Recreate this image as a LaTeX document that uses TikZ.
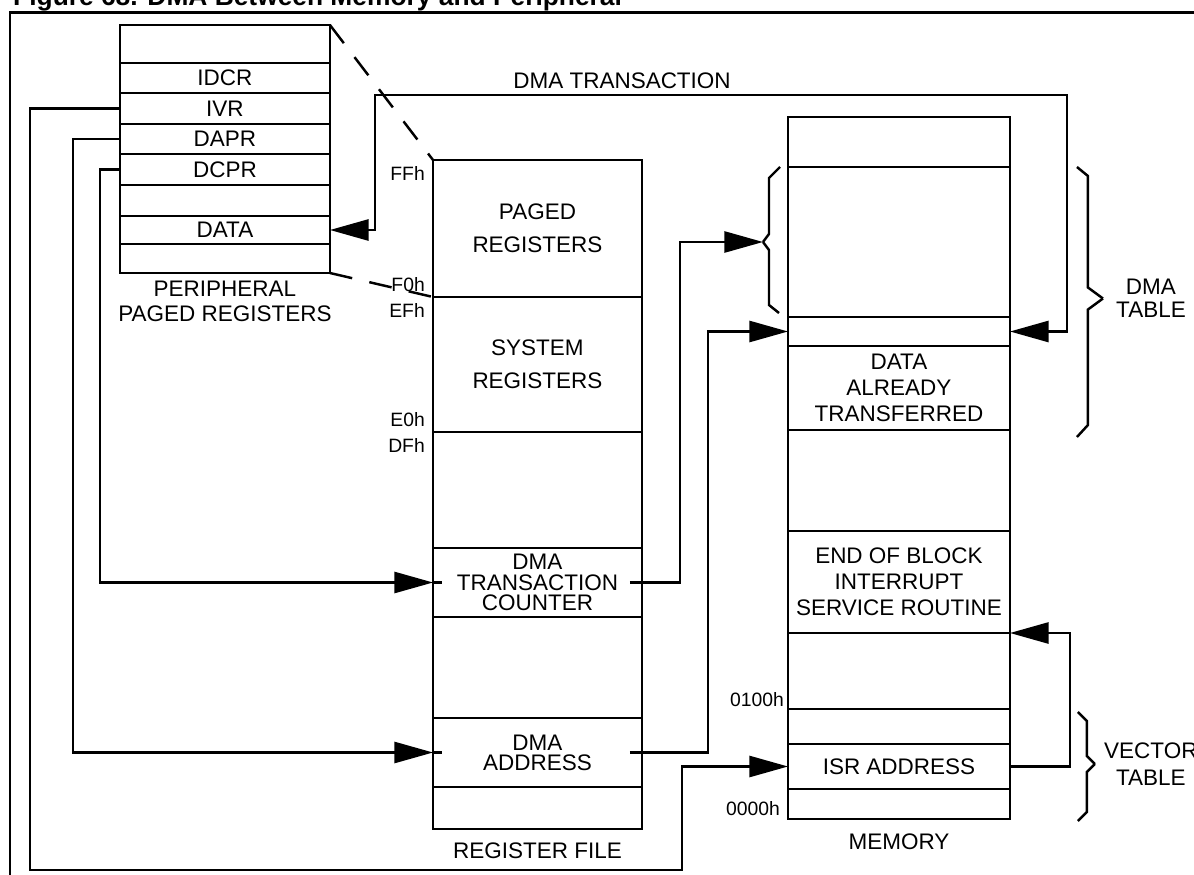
\documentclass[tikz,border=0pt]{standalone}
\usepackage{fontspec}
\setmainfont{Liberation Sans}
\usetikzlibrary{arrows.meta,positioning,calc}

\begin{document}
\begin{tikzpicture}[
		x=0.02cm, y=-0.02cm,
		font=\fontsize{12.8}{15}\selectfont,
		line width=1.4pt,
		>={Triangle[length=22pt,width=12pt]},
		line/.style={->},
		bidir/.style={<->},
		cell/.style={draw, align=center, inner sep=0pt, outer sep=0pt, minimum height=#1*0.02cm},
		pcell/.style={cell=#1, minimum width=4.2cm},
		rcell/.style={cell=#1, minimum width=4.18cm},
		mcell/.style={cell=#1, minimum width=4.44cm},
		addr/.style={font=\fontsize{11}{12}\selectfont, inner sep=0pt},
		tag/.style={align=center, inner sep=0pt},
		tight/.style={font=\fontsize{12.8}{11.5}\selectfont},
		loose/.style={font=\fontsize{12.8}{19}\selectfont},
		mid/.style={font=\fontsize{12.8}{14.8}\selectfont},
		proj/.style={dash pattern=on 13pt off 10pt}
		]
		\useasboundingbox (0,0) rectangle (1194,875);
		
		% Frame and title
		\draw[line width=1.7pt] (1200,12.5) -- (10,12.5) -- (10,880);
		\node[anchor=base west, inner sep=0pt, font=\fontsize{15}{18}\selectfont\bfseries] (title) at (12,6) {Figure 68. DMA Between Memory and Peripheral};
		
		% Peripheral paged registers
		\node[pcell=38, anchor=north west] (ptop) at (120,25) {};
		\node[pcell=30, below=0pt of ptop] (idcr) {IDCR};
		\node[pcell=31, below=0pt of idcr] (ivr) {IVR};
		\node[pcell=30, below=0pt of ivr] (dapr) {DAPR};
		\node[pcell=31, below=0pt of dapr] (dcpr) {DCPR};
		\node[pcell=31, below=0pt of dcpr] (pfree) {};
		\node[pcell=28, below=0pt of pfree] (pdata) {DATA};
		\node[pcell=29, below=0pt of pdata] (pbot) {};
		\node[tag, below=0.14cm of pbot, font=\fontsize{12.8}{14.2}\selectfont] (pname) {PERIPHERAL\\PAGED REGISTERS};
		
		% Register file
		\node[rcell=137, anchor=north west, loose] (paged) at (433,160) {PAGED\\REGISTERS};
		\node[rcell=135, below=0pt of paged, loose] (system) {SYSTEM\\REGISTERS};
		\node[rcell=116, below=0pt of system] (rfree1) {};
		\node[rcell=69, below=0pt of rfree1, tight] (dmacnt) {DMA\\TRANSACTION\\COUNTER};
		\node[rcell=101, below=0pt of dmacnt] (rfree2) {};
		\node[rcell=69, below=0pt of rfree2, tight] (dmaaddr) {DMA\\ADDRESS};
		\node[rcell=42, below=0pt of dmaaddr] (rbot) {};
		\node[tag, below=0.26cm of rbot] (rname) {REGISTER FILE};
		
		% Memory
		\node[mcell=50, anchor=north west] (mtop) at (788,117) {};
		\node[mcell=150, below=0pt of mtop] (mpage) {};
		\node[mcell=29, below=0pt of mpage] (mnext) {};
		\node[mcell=84, below=0pt of mnext, mid] (mdone) {DATA\\ALREADY\\TRANSFERRED};
		\node[mcell=101, below=0pt of mdone] (mfree1) {};
		\node[mcell=102, below=0pt of mfree1, mid] (eob) {END OF BLOCK\\INTERRUPT\\SERVICE ROUTINE};
		\node[mcell=76, below=0pt of eob] (mfree2) {};
		\node[mcell=35, below=0pt of mfree2] (mvec) {};
		\node[mcell=45, below=0pt of mvec] (isr) {ISR ADDRESS};
		\node[mcell=30, below=0pt of isr] (mbot) {};
		\node[tag, below=0.28cm of mbot] (mname) {MEMORY};
		
		% Address marks
		\node[addr, anchor=north east] (ffh) at ($(paged.north west)+(-7,5)$) {FFh};
		\node[addr, anchor=south east] (f0h) at ($(paged.south west)+(-7,-4)$) {F0h};
		\node[addr, anchor=north east] (efh) at ($(system.north west)+(-7,5)$) {EFh};
		\node[addr, anchor=south east] (e0h) at ($(system.south west)+(-7,-4)$) {E0h};
		\node[addr, anchor=north east] (dfh) at ($(rfree1.north west)+(-7,5)$) {DFh};
		\node[addr, anchor=south east] (a100) at ($(mvec.north west)+(-3,-1)$) {0100h};
		\node[addr, anchor=south east] (a000) at ($(mbot.south west)+(-7,-2)$) {0000h};
		
		% Page projection
		\draw[proj] (ptop.north east) -- (paged.north west);
		\draw[proj] (pbot.south east) -- (paged.south west);
		
		% DMA transaction path
		\coordinate (trleft) at (375,95);
		\coordinate (trright) at (1067,95);
		\draw[bidir] (pdata.east) -| (trleft) -- node[pos=0.357, above, inner sep=3pt] (trname) {DMA TRANSACTION} (trright) |- (mnext.east);
		
		% Pointer registers to register file and memory
		\draw[line] (ivr.west) -| (30,870) -| ($(isr.west)+(-106,0)$) -- (isr.west);
		\draw[line] (dapr.west) -| ($(dmaaddr.west)+(-360,0)$) -- (dmaaddr.west);
		\draw[line] (dcpr.west) -| ($(dmacnt.west)+(-333,0)$) -- (dmacnt.west);
		\draw (dmacnt.west) -- ++(9,0);
		\draw (dmaaddr.west) -- ++(9,0);
		
		\coordinate (ptip) at ($(mpage.west)+(-25,0)$);
		\draw[line] ($(dmacnt.east)+(-12,0)$) -| ($(ptip)+(-83,0)$) -- (ptip);
		\draw[line] ($(dmaaddr.east)+(-12,0)$) -| ($(mnext.west)+(-80,0)$) -- (mnext.west);
		\draw[line] (isr.east) -| ($(eob.south east)+(60,0)$) -- (eob.south east);
		
		% Braces
		\draw (ptip) -- ++(6,-8) -- ($(mpage.north west)+(-19,11)$) -- ++(11,-11);
		\draw (ptip) -- ++(6,8) -- ($(mpage.south west)+(-19,-12)$) -- ++(10,8);
		
		\coordinate (dtip) at ($(mpage.north east)!0.5!(mdone.south east)+(93,0)$);
		\draw (dtip) -- ++(-15,-11) -- ($(mpage.north east)+(78,9)$) -- ++(-11,-9);
		\draw (dtip) -- ++(-15,11) -- ($(mdone.south east)+(78,-5)$) -- ++(-11,12);
		\node[tag, right=0.24cm of dtip, font=\fontsize{12.8}{13}\selectfont] (dname) {DMA\\TABLE};
		
		\coordinate (vtip) at ($(mvec.north east)!0.5!(mbot.south east)+(85,0)$);
		\draw (vtip) -- ++(-8,-8) -- ($(mvec.north east)+(77,12)$) -- ++(-9,-9);
		\draw (vtip) -- ++(-8,8) -- ($(mbot.south east)+(77,-7)$) -- ++(-9,9);
		\node[tag, right=0.16cm of vtip, font=\fontsize{12.8}{15}\selectfont] (vname) {VECTOR\\TABLE};
	\end{tikzpicture}
\end{document}
